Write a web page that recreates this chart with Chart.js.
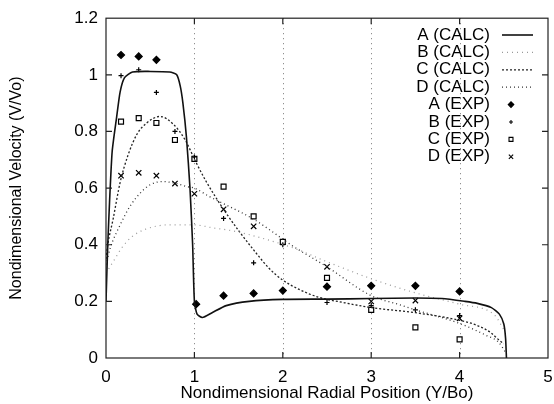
<!DOCTYPE html>
<html>
<head>
<meta charset="utf-8">
<script src="https://cdn.jsdelivr.net/npm/chart.js"></script>
<style>
  html, body { margin: 0; padding: 0; background: #fff; }
  #chart { display: block; }
</style>
</head>
<body>
<canvas id="chart" width="554" height="404"></canvas>
<script>
// calculated profiles
const aCalcX = [0, 0.02, 0.04, 0.07, 0.12, 0.16, 0.21, 0.3, 0.5, 0.72, 0.8, 0.84, 0.87, 0.91, 0.95, 0.98, 1.0, 1.03, 1.09, 1.2, 1.36, 1.62, 2.0, 2.5, 3.0, 3.5, 3.8, 4.06, 4.2, 4.36, 4.45, 4.5, 4.52, 4.53];
const aCalcY = [0.2, 0.4, 0.55, 0.73, 0.85, 0.94, 0.99, 1.01, 1.012, 1.01, 1.0, 0.96, 0.9, 0.78, 0.6, 0.4, 0.2, 0.155, 0.143, 0.16, 0.185, 0.2, 0.207, 0.208, 0.21, 0.212, 0.21, 0.2, 0.193, 0.178, 0.155, 0.12, 0.07, 0];

const bCalcX = [0, 0.1, 0.18, 0.3, 0.45, 0.7, 1.0, 1.2, 1.45, 1.8, 2.15, 2.5, 3.0, 3.5, 4.0, 4.4, 4.5];
const bCalcY = [0.3, 0.35, 0.39, 0.43, 0.455, 0.47, 0.47, 0.46, 0.448, 0.42, 0.385, 0.34, 0.28, 0.23, 0.19, 0.15, 0.1];

const cCalcX = [0, 0.02, 0.08, 0.16, 0.25, 0.35, 0.46, 0.61, 0.76, 0.89, 1.02, 1.13, 1.33, 1.5, 1.7, 1.85, 2.0, 2.2, 2.4, 2.7, 3.0, 3.5, 4.0, 4.2, 4.35, 4.44, 4.5];
const cCalcY = [0.35, 0.4, 0.49, 0.62, 0.717, 0.79, 0.83, 0.853, 0.826, 0.773, 0.69, 0.625, 0.525, 0.45, 0.37, 0.315, 0.275, 0.24, 0.215, 0.195, 0.178, 0.16, 0.133, 0.115, 0.09, 0.065, 0.05];

const dCalcX = [0, 0.05, 0.16, 0.27, 0.38, 0.5, 0.64, 0.8, 0.92, 1.0, 1.17, 1.33, 1.67, 2.0, 2.1, 2.5, 3.0, 3.3, 3.5, 4.0, 4.3, 4.44, 4.52];
const dCalcY = [0.33, 0.39, 0.47, 0.535, 0.58, 0.612, 0.623, 0.616, 0.605, 0.6, 0.57, 0.545, 0.49, 0.42, 0.398, 0.322, 0.22, 0.19, 0.17, 0.122, 0.08, 0.056, 0.02];

// experimental points
const aExpX = [0.17, 0.37, 0.57, 1.02, 1.33, 1.67, 2.0, 2.5, 3.0, 3.5, 4.0];
const aExpY = [1.07, 1.065, 1.053, 0.19, 0.22, 0.228, 0.238, 0.252, 0.255, 0.255, 0.235];

const expX = [0.17, 0.37, 0.57, 0.78, 1.0, 1.33, 1.67, 2.0, 2.5, 3.0, 3.5, 4.0];
const bExpY = [0.997, 1.018, 0.938, 0.8, 0.71, 0.493, 0.336, 0.4, 0.196, 0.185, 0.17, 0.15];
const cExpY = [0.835, 0.847, 0.83, 0.77, 0.703, 0.605, 0.5, 0.41, 0.283, 0.17, 0.108, 0.066];
const dExpY = [0.644, 0.654, 0.644, 0.616, 0.58, 0.525, 0.465, 0.41, 0.322, 0.2, 0.203, 0.14];

const yTicks = [0, 0.2, 0.4, 0.6, 0.8, 1, 1.2];
const xTicks = [0, 1, 2, 3, 4, 5];

const FONT = 'Liberation Sans, Arial, Helvetica, sans-serif';
const pts = (xs, ys) => xs.map((x, i) => ({ x: x, y: ys[i] }));

const calcLine = (label, xs, ys, color, dash, width, smooth) => ({
  label: label,
  data: pts(xs, ys),
  showLine: true,
  borderColor: color,
  borderWidth: width,
  borderDash: dash,
  pointRadius: 0,
  tension: 0.2,
  cubicInterpolationMode: smooth ? 'monotone' : 'default',
  fill: false
});

const expPoints = (label, xs, ys, style, radius, bg) => ({
  label: label,
  data: pts(xs, ys),
  showLine: false,
  pointStyle: style,
  pointRadius: radius,
  pointBorderColor: '#000',
  pointBackgroundColor: bg,
  pointBorderWidth: 1.2
});

const datasets = [
  calcLine('A (CALC)', aCalcX, aCalcY, '#111', [], 1.6, false),
  calcLine('B (CALC)', bCalcX, bCalcY, '#999', [1, 4], 1.2, true),
  calcLine('C (CALC)', cCalcX, cCalcY, '#222', [2, 2], 1.3, true),
  calcLine('D (CALC)', dCalcX, dCalcY, '#333', [1, 3], 1.3, true),
  expPoints('A (EXP)', aExpX, aExpY, 'rectRot', 3.5, '#000'),
  expPoints('B (EXP)', expX, bExpY, 'cross', 2.5, '#000'),
  expPoints('C (EXP)', expX, cExpY, 'rect', 3.5, '#fff'),
  expPoints('D (EXP)', expX, dExpY, 'crossRot', 3.8, '#000')
];

// frame, inward ticks and dotted verticals like the original plot
const framePlugin = {
  id: 'frame',
  beforeDatasetsDraw(chart) {
    const { ctx, chartArea: a, scales: { x } } = chart;
    ctx.save();
    ctx.strokeStyle = '#777';
    ctx.lineWidth = 1;
    ctx.setLineDash([1, 4]);
    [1, 2, 3, 4].forEach(v => {
      const px = Math.round(x.getPixelForValue(v)) + 0.5;
      ctx.beginPath();
      ctx.moveTo(px, a.top);
      ctx.lineTo(px, a.bottom);
      ctx.stroke();
    });
    ctx.restore();
  },
  afterDatasetsDraw(chart) {
    const { ctx, chartArea: a, scales: { x, y } } = chart;
    ctx.save();
    ctx.strokeStyle = '#222';
    ctx.lineWidth = 1.2;
    ctx.strokeRect(a.left, a.top, a.right - a.left, a.bottom - a.top);
    ctx.beginPath();
    yTicks.slice(1, -1).forEach(v => {
      const py = y.getPixelForValue(v);
      ctx.moveTo(a.left, py); ctx.lineTo(a.left + 6, py);
      ctx.moveTo(a.right, py); ctx.lineTo(a.right - 6, py);
    });
    xTicks.slice(1, -1).forEach(v => {
      const px = x.getPixelForValue(v);
      ctx.moveTo(px, a.bottom); ctx.lineTo(px, a.bottom - 6);
      ctx.moveTo(px, a.top); ctx.lineTo(px, a.top + 6);
    });
    ctx.stroke();

    // legend in the upper right, text right aligned, sample to the right
    ctx.font = '17px ' + FONT;
    ctx.textAlign = 'right';
    ctx.textBaseline = 'middle';
    chart.data.datasets.forEach((ds, i) => {
      const ly = 35 + i * 17.4;
      ctx.fillStyle = '#000';
      ctx.fillText(ds.label, 490, ly);
      if (ds.showLine) {
        ctx.strokeStyle = ds.borderColor;
        ctx.lineWidth = ds.borderWidth;
        ctx.setLineDash(ds.borderDash);
        ctx.beginPath();
        ctx.moveTo(502, ly);
        ctx.lineTo(533, ly);
        ctx.stroke();
        ctx.setLineDash([]);
      } else {
        ctx.fillStyle = ds.pointBackgroundColor;
        ctx.strokeStyle = '#000';
        ctx.lineWidth = 1.1;
        Chart.helpers.drawPoint(ctx, {
          pointStyle: ds.pointStyle,
          radius: ds.pointRadius * 0.8,
          borderWidth: 1.1
        }, 511, ly);
      }
    });
    ctx.restore();
  }
};

new Chart(document.getElementById('chart'), {
  type: 'scatter',
  data: { datasets: datasets },
  options: {
    responsive: false,
    animation: false,
    layout: { padding: { top: 15, right: 6, left: 0, bottom: 0 } },
    plugins: { legend: { display: false }, tooltip: { enabled: false } },
    scales: {
      x: {
        type: 'linear',
        min: 0,
        max: 5,
        afterBuildTicks: s => { s.ticks = xTicks.map(v => ({ value: v })); },
        afterFit: s => { s.height = 46; s.paddingLeft = 0; s.paddingRight = 0; },
        grid: { display: false, drawTicks: false },
        border: { display: false },
        ticks: { color: '#000', padding: 9, font: { family: FONT, size: 17 }, callback: v => String(v) },
        title: { display: true, text: 'Nondimensional Radial Position (Y/Bo)', color: '#000', font: { family: FONT, size: 17 }, padding: { top: 0, bottom: 0 } }
      },
      y: {
        type: 'linear',
        min: 0,
        max: 1.2,
        afterBuildTicks: s => { s.ticks = yTicks.map(v => ({ value: v })); },
        afterFit: s => { s.width = 106; },
        grid: { display: false, drawTicks: false },
        border: { display: false },
        ticks: { color: '#000', padding: 8, font: { family: FONT, size: 17 }, callback: v => String(+v.toFixed(1)) },
        title: { display: true, text: 'Nondimensional Velocity (V/Vo)', color: '#000', font: { family: FONT, size: 16 }, padding: { top: 7, bottom: 0 } }
      }
    }
  },
  plugins: [framePlugin]
});
</script>
</body>
</html>
